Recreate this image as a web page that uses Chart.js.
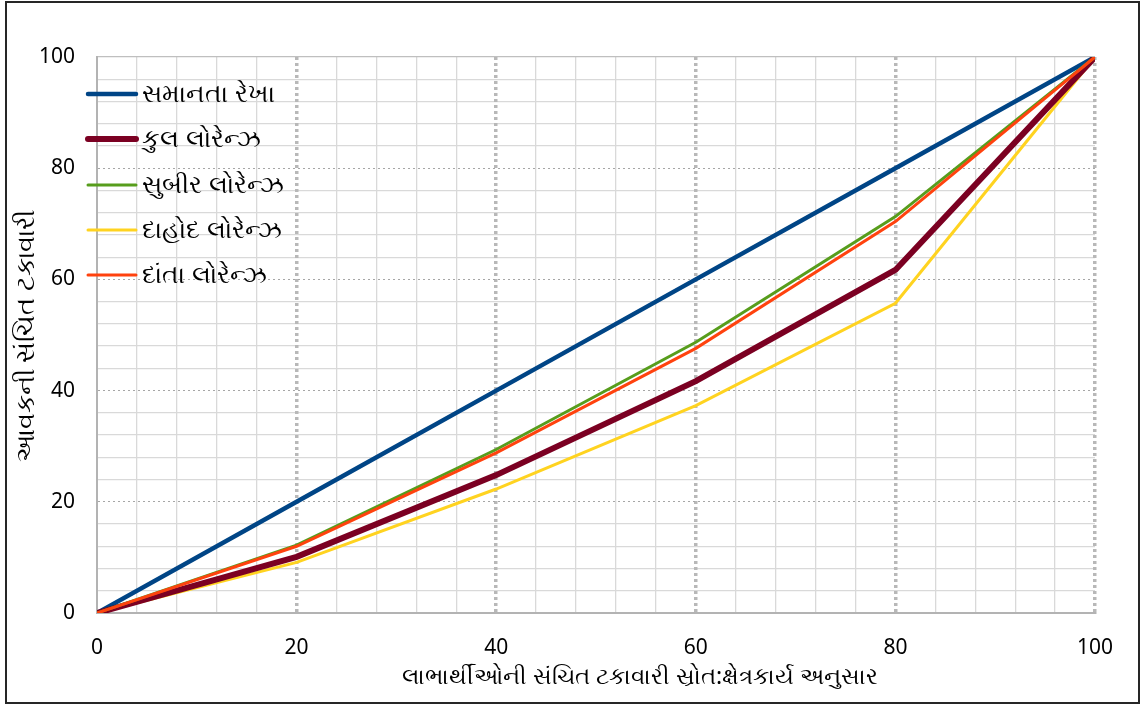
<!DOCTYPE html>
<html>
<head>
<meta charset="utf-8">
<script src="https://cdn.jsdelivr.net/npm/chart.js@4.4.0/dist/chart.umd.min.js"></script>
<style>
html,body{margin:0;padding:0;background:#fff;}
#wrap{position:relative;width:1140px;height:704px;}
#frame{position:absolute;left:5px;top:1px;width:1131px;height:699px;border:2px solid #262626;pointer-events:none;}
canvas{position:absolute;left:0;top:0;}
</style>
</head>
<body>
<div id="wrap">
<canvas id="c" width="1140" height="704"></canvas>
<div id="frame"></div>
</div>
<script>
// Data
const xValues = [0, 20, 40, 60, 80, 100];
const seriesNames = ["સમાનતા રેખા", "કુલ લોરેન્ઝ", "સુબીર લોરેન્ઝ", "દાહોદ લોરેન્ઝ", "દાંતા લોરેન્ઝ"];
const equalityLine = [0, 20, 40, 60, 80, 100];
const kulLorenz = [0, 10.1, 24.8, 41.7, 61.7, 100];
const subirLorenz = [0, 12.2, 29.4, 48.7, 71.3, 100];
const dahodLorenz = [0, 9.1, 22.3, 37.3, 55.7, 100];
const dantaLorenz = [0, 12.0, 28.8, 47.6, 70.4, 100];
const xTitle = "લાભાર્થીઓની સંચિત ટકાવારી સ્રોત:ક્ષેત્રકાર્ય અનુસાર";
const yTitle = "આવકની સંચિત ટકાવારી";

const colors = ["#004586", "#7b0022", "#579d1c", "#ffd320", "#ff420e"];
const widths = [4.5, 6, 3, 3, 3];
const seriesValues = [equalityLine, kulLorenz, subirLorenz, dahodLorenz, dantaLorenz];

const FONT = "'Noto Sans', 'Open Sans', 'DejaVu Sans', sans-serif";

const datasets = seriesValues.map((vals, i) => ({
  label: seriesNames[i],
  data: xValues.map((x, j) => ({x: x, y: vals[j]})),
  borderColor: colors[i],
  backgroundColor: colors[i],
  borderWidth: widths[i],
  pointRadius: 0,
  tension: 0,
  fill: false,
  xAxisID: 'x',
  yAxisID: 'y'
}));
datasets[0].order = 5; datasets[3].order = 4; datasets[1].order = 3; datasets[2].order = 2; datasets[4].order = 1;

const overlay = {
  id: 'overlay',
  afterDatasetsDraw(chart) {
    const ctx = chart.ctx;
    ctx.save();
    // legend
    const ys = [94, 139, 185, 230, 275];
    ctx.font = "25px " + FONT;
    ctx.textBaseline = 'middle';
    ctx.textAlign = 'left';
    chart.data.datasets.forEach((ds, i) => {
      ctx.beginPath();
      ctx.lineWidth = ds.borderWidth;
      ctx.strokeStyle = ds.borderColor;
      ctx.lineCap = 'round';
      ctx.moveTo(88, ys[i]);
      ctx.lineTo(136, ys[i]);
      ctx.stroke();
      ctx.fillStyle = '#000';
      ctx.fillText(ds.label, 142, ys[i] + 1);
    });
    // axis titles
    ctx.font = "23px " + FONT;
    ctx.textAlign = 'center';
    ctx.fillText(xTitle, 640, 677);
    ctx.font = "26px " + FONT;
    ctx.translate(27, 336);
    ctx.rotate(-Math.PI / 2);
    ctx.fillText(yTitle, 0, 0);
    ctx.restore();
  }
};

new Chart(document.getElementById('c'), {
  type: 'line',
  data: { datasets },
  options: {
    responsive: false,
    animation: false,
    layout: { padding: { left: 0, top: 57, right: 45, bottom: 0 } },
    plugins: { legend: { display: false }, tooltip: { enabled: false } },
    scales: {
      xm: {
        type: 'linear', position: 'top', min: 0, max: 100,
        ticks: { stepSize: 4, display: false },
        grid: { drawTicks: false, color: c => (c.tick && c.tick.value % 20 === 0) ? 'rgba(0,0,0,0)' : '#d9d9d9', lineWidth: 1.3 },
        border: { display: false },
        afterFit: s => { s.height = 0; }
      },
      ym: {
        type: 'linear', position: 'right', min: 0, max: 100,
        ticks: { stepSize: 4, display: false },
        grid: { drawTicks: false, color: c => (c.tick && c.tick.value % 20 === 0 && c.tick.value !== 100) ? 'rgba(0,0,0,0)' : (c.tick && c.tick.value === 100 ? '#bfbfbf' : '#d9d9d9'), lineWidth: 1.3 },
        border: { display: false },
        afterFit: s => { s.width = 0; }
      },
      x: {
        type: 'linear', position: 'bottom', min: 0, max: 100,
        ticks: { stepSize: 20, padding: 22, color: '#000', font: { family: FONT, size: 21 } },
        grid: { drawTicks: false, color: c => (c.tick && c.tick.value === 0) ? 'rgba(0,0,0,0)' : '#b8b8b8', lineWidth: 3.5 },
        border: { display: true, color: '#b3b3b3', width: 2, dash: [3, 3] },
        afterFit: s => { s.height = 91; }
      },
      y: {
        type: 'linear', position: 'left', min: 0, max: 100,
        ticks: { stepSize: 20, padding: 22, color: '#000', font: { family: FONT, size: 21 } },
        grid: { drawTicks: false, color: c => (c.tick && (c.tick.value === 0 || c.tick.value === 100)) ? 'rgba(0,0,0,0)' : '#a6a6a6', lineWidth: 1 },
        border: { display: true, color: '#b3b3b3', width: 2, dash: [2, 3] },
        afterFit: s => { s.width = 97; }
      }
    }
  },
  plugins: [overlay]
});
</script>
</body>
</html>
